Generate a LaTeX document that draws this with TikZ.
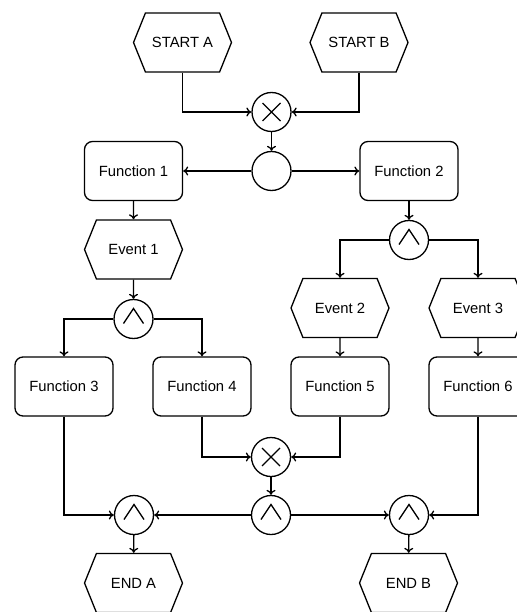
\documentclass[tikz,border=0pt]{standalone}
\usepackage{fontspec}
\setmainfont{Liberation Sans}
\usetikzlibrary{shapes.symbols,arrows.meta}
\def\andsign{(path picture bounding box.center) ++(-10pt,-4.5pt) -- ++(10pt,15pt) -- ++(10pt,-15pt)}
\def\xorsign{(path picture bounding box.center) +(-9pt,-9pt) -- +(9pt,9pt) +(-9pt,9pt) -- +(9pt,-9pt)}
\def\eventbox{(0,0) rectangle (516,612)}

\begin{document}
\begin{tikzpicture}[x=1pt,y=-1pt,line width=1.3pt,
    txt/.style={font=\fontsize{14.8}{17}\selectfont},
    func/.style={txt,draw,rounded corners=8pt,minimum width=98pt,minimum height=59pt},
    evt/.style={txt,draw,signal,signal to=west and east,signal pointer angle=136,
      minimum width=98pt,minimum height=59pt,inner sep=0pt},
    conn/.style={draw,circle,minimum size=39pt,inner sep=0pt},
    andc/.style={conn,path picture={\draw \andsign;}},
    xorc/.style={conn,path picture={\draw \xorsign;}},
    arr/.style={-{To[length=5pt,width=9pt]}}]
  \useasboundingbox \eventbox;

  % start events
  \node[evt] (sa) at (182.5,42.5) {START A};
  \node[evt] (sb) at (359,42.5) {START B};
  \node[xorc] (x1) at (271.5,112) {};
  \node[conn] (c1) at (271.5,171) {};

  % functions and events
  \node[func] (f1) at (133.5,171) {Function 1};
  \node[func] (f2) at (409,171) {Function 2};
  \node[evt] (e1) at (133.5,249.5) {Event 1};
  \node[andc] (a1) at (133.5,319) {};
  \node[andc] (a2) at (409,240) {};
  \node[evt] (e2) at (340,308) {Event 2};
  \node[evt] (e3) at (478,308) {Event 3};
  \node[func] (f3) at (64,386.5) {Function 3};
  \node[func] (f4) at (202,386.5) {Function 4};
  \node[func] (f5) at (340,386.5) {Function 5};
  \node[func] (f6) at (478,386.5) {Function 6};

  % joins and end events
  \node[xorc] (x2) at (271,457) {};
  \node[andc] (a3) at (271,515) {};
  \node[andc] (a4) at (134,515) {};
  \node[andc] (a5) at (409,515) {};
  \node[evt] (ea) at (133.5,583) {END A};
  \node[evt] (eb) at (408.5,583) {END B};

  \draw[arr] (sa) |- (x1);
  \draw[arr] (sb) |- (x1);
  \draw[arr] (x1) -- (c1);
  \draw[arr] (c1) -- (f1);
  \draw[arr] (c1) -- (f2);
  \draw[arr] (f1) -- (e1);
  \draw[arr] (e1) -- (a1);
  \draw[arr] (a1) -| (f3);
  \draw[arr] (a1) -| (f4);
  \draw[arr] (f2) -- (a2);
  \draw[arr] (a2) -| (e2);
  \draw[arr] (a2) -| (e3);
  \draw[arr] (e2) -- (f5);
  \draw[arr] (e3) -- (f6);
  \draw[arr] (f4) |- (x2);
  \draw[arr] (f5) |- (x2);
  \draw[arr] (x2) -- (a3);
  \draw[arr] (a3) -- (a4);
  \draw[arr] (a3) -- (a5);
  \draw[arr] (f3) |- (a4);
  \draw[arr] (f6) |- (a5);
  \draw[arr] (a4) -- (ea);
  \draw[arr] (a5) -- (eb);
\end{tikzpicture}
\end{document}
